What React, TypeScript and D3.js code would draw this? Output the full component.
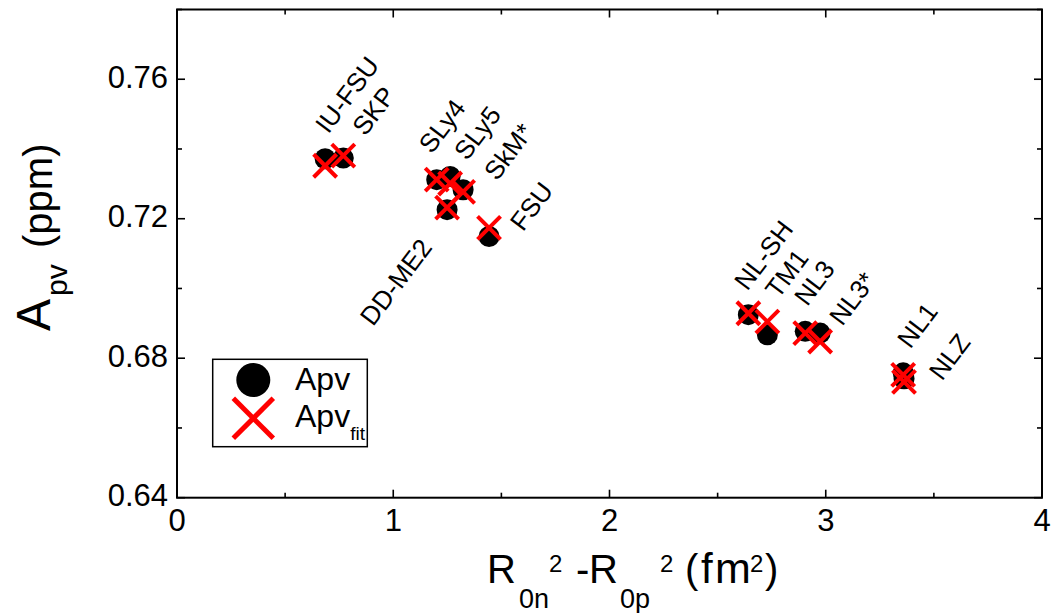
import React, { useRef, useEffect } from 'react';
import * as d3 from 'd3';

// models and their values
const models = ['IU-FSU', 'SKP', 'SLy4', 'SLy5', 'SkM*', 'DD-ME2', 'FSU', 'NL-SH', 'TM1', 'NL3', 'NL3*', 'NL1', 'NLZ'];
const dR2 = [0.685, 0.769, 1.201, 1.263, 1.323, 1.249, 1.443, 2.642, 2.73, 2.905, 2.974, 3.358, 3.362];
const apv = [0.7372, 0.7374, 0.7312, 0.7321, 0.7283, 0.7226, 0.7149, 0.6925, 0.6867, 0.6877, 0.6872, 0.6758, 0.6741];
const apvFit = [0.7352, 0.7381, 0.7312, 0.7301, 0.7277, 0.7232, 0.7174, 0.6929, 0.6905, 0.6872, 0.6848, 0.6752, 0.6732];

const xTicks = [0, 1, 2, 3, 4];
const xMinor = [0.5, 1.5, 2.5, 3.5];
const yTicks = [0.64, 0.68, 0.72, 0.76];
const yMinor = [0.66, 0.7, 0.74, 0.78];

// label placement relative to the circle (px), DD-ME2 is drawn ending at its anchor
const labelOffsets = [[3, -24], [22, -21], [-5, -25], [17, -15], [34, -8], [-14, 38], [34, -4], [-1, -23], [11, -35], [2, -24], [22, -6], [7, -23], [38, 3]];

const FONT = '"Liberation Sans", Arial, sans-serif';

const Chart = () => {
  const svgRef = useRef(null);

  useEffect(() => {
    const svg = d3.select(svgRef.current);
    svg.selectAll('*').remove();

    const left = 177, right = 1042, top = 9.5, bottom = 497.7;
    const x = d3.scaleLinear().domain([0, 4]).range([left, right]);
    const y = d3.scaleLinear().domain([0.64, 0.78]).range([bottom, top]);

    // frame
    svg.append('rect')
      .attr('x', left).attr('y', top)
      .attr('width', right - left).attr('height', bottom - top)
      .attr('fill', 'none').attr('stroke', '#000').attr('stroke-width', 2);

    const tickG = svg.append('g').attr('stroke', '#000').attr('stroke-width', 1.6);
    const majorLen = 8, minorLen = 5;
    xTicks.concat(xMinor).forEach((v) => {
      const len = xTicks.includes(v) ? majorLen : minorLen;
      tickG.append('line').attr('x1', x(v)).attr('x2', x(v)).attr('y1', bottom).attr('y2', bottom - len);
      tickG.append('line').attr('x1', x(v)).attr('x2', x(v)).attr('y1', top).attr('y2', top + len);
    });
    yTicks.concat(yMinor).forEach((v) => {
      const len = yTicks.includes(v) ? majorLen : minorLen;
      tickG.append('line').attr('x1', left).attr('x2', left + len).attr('y1', y(v)).attr('y2', y(v));
      tickG.append('line').attr('x1', right).attr('x2', right - len).attr('y1', y(v)).attr('y2', y(v));
    });

    // tick labels
    svg.append('g').selectAll('text').data(xTicks).join('text')
      .attr('x', (d) => x(d)).attr('y', 531)
      .attr('text-anchor', 'middle')
      .style('font-family', FONT).style('font-size', '31px')
      .text((d) => d3.format('d')(d));

    svg.append('g').selectAll('text').data(yTicks).join('text')
      .attr('x', 168).attr('y', (d) => y(d) + 8.6)
      .attr('text-anchor', 'end')
      .style('font-family', FONT).style('font-size', '31px')
      .text((d) => d3.format('.2f')(d));

    // circles (Apv)
    svg.append('g').selectAll('circle').data(models).join('circle')
      .attr('cx', (d, i) => x(dR2[i])).attr('cy', (d, i) => y(apv[i]))
      .attr('r', 10.5).attr('fill', '#000');

    // crosses (Apv fit)
    const s = 11.5;
    const crossG = svg.append('g').attr('stroke', '#ff0000').attr('stroke-width', 4);
    models.forEach((m, i) => {
      const cx = x(dR2[i]), cy = y(apvFit[i]);
      crossG.append('line').attr('x1', cx - s).attr('y1', cy - s).attr('x2', cx + s).attr('y2', cy + s);
      crossG.append('line').attr('x1', cx - s).attr('y1', cy + s).attr('x2', cx + s).attr('y2', cy - s);
    });

    // model labels, rotated
    models.forEach((m, i) => {
      const [dx, dy] = labelOffsets[i];
      const lx = x(dR2[i]) + dx, ly = y(apv[i]) + dy;
      svg.append('text')
        .attr('transform', `translate(${lx},${ly}) rotate(-53)`)
        .attr('text-anchor', m === 'DD-ME2' ? 'end' : 'start')
        .style('font-family', FONT).style('font-size', '26px')
        .text(m);
    });

    // legend
    svg.append('rect')
      .attr('x', 212.7).attr('y', 359.3).attr('width', 154.6).attr('height', 87.4)
      .attr('fill', '#fff').attr('stroke', '#000').attr('stroke-width', 1.5);
    svg.append('circle').attr('cx', 253.3).attr('cy', 380).attr('r', 17).attr('fill', '#000');
    const ls = 20;
    const lg = svg.append('g').attr('stroke', '#ff0000').attr('stroke-width', 5);
    lg.append('line').attr('x1', 253.3 - ls).attr('y1', 418.3 - ls).attr('x2', 253.3 + ls).attr('y2', 418.3 + ls);
    lg.append('line').attr('x1', 253.3 - ls).attr('y1', 418.3 + ls).attr('x2', 253.3 + ls).attr('y2', 418.3 - ls);
    svg.append('text').attr('x', 295).attr('y', 390)
      .style('font-family', FONT).style('font-size', '32px').text('Apv');
    const t2 = svg.append('text').attr('x', 295).attr('y', 427)
      .style('font-family', FONT).style('font-size', '32px');
    t2.append('tspan').text('Apv');
    t2.append('tspan').attr('dy', 13).style('font-size', '19px').text('fit');

    // x axis title
    const xt = svg.append('g').style('font-family', FONT);
    const piece = (g, txt, px, py, fs) =>
      g.append('text').attr('x', px).attr('y', py).style('font-size', `${fs}px`).text(txt);
    piece(xt, 'R', 487, 583, 40);
    piece(xt, '0n', 519, 608, 27);
    piece(xt, '2', 549, 572, 24);
    piece(xt, '-', 576, 583, 40);
    piece(xt, 'R', 589, 583, 40);
    piece(xt, '0p', 620, 608, 27);
    piece(xt, '2', 660, 572, 24);
    piece(xt, '(', 685, 583, 40);
    piece(xt, 'f', 701, 583, 42);
    piece(xt, 'm', 715, 583, 43);
    piece(xt, '2', 750, 572, 24);
    piece(xt, ')', 765, 583, 40);

    // y axis title
    const yt = svg.append('g').attr('transform', 'rotate(-90)').style('font-family', FONT);
    piece(yt, 'A', -331, 50, 48);
    piece(yt, 'pv', -296, 67, 30);
    piece(yt, '(ppm)', -248, 52, 40);
  }, []);

  return <svg ref={svgRef} width={1054} height={613} style={{ position: 'absolute', left: 0, top: 0, background: '#fff' }} />;
};

export default function App() {
  return <Chart />;
}
